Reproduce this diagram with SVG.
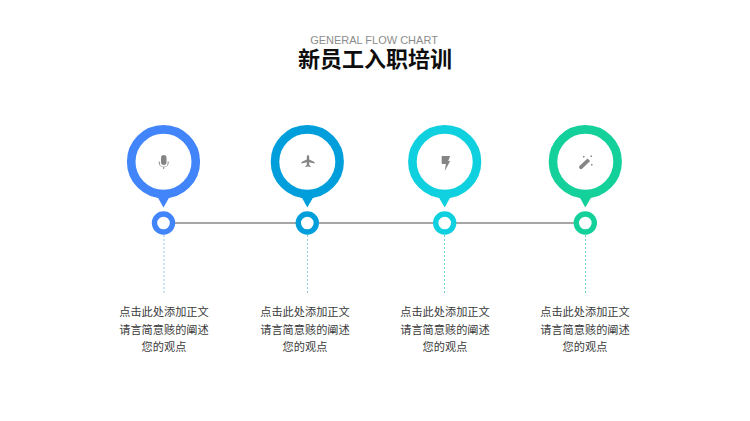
<svg xmlns="http://www.w3.org/2000/svg" width="750" height="421" viewBox="0 0 750 421">
<style>
.cn{font-family:"Noto Sans CJK SC","Liberation Sans",sans-serif}
.body{font-size:11.2px;fill:#3a3a3a;text-anchor:middle}
.ring{fill:none;stroke-width:8.6}
.dot{fill:#fff;stroke-width:5.4}
.drop{fill:none;stroke-width:1;stroke-dasharray:2 2}
.ico{fill:#858585}
</style>
<rect width="750" height="421" fill="#fff"/>
<g id="title">
<text x="374" y="43.500" text-anchor="middle" font-family="Liberation Sans,sans-serif" font-size="11px" fill="#8c8c8c">GENERAL FLOW CHART</text>
<text x="375" y="67" text-anchor="middle" class="cn" font-size="22px" font-weight="700" fill="#0d0d0d">新员工入职培训</text>
</g>
<g id="connectors">
<line x1="175" y1="223" x2="575" y2="223" stroke="#a6a6a6" stroke-width="2"/>
<line class="drop" x1="164" y1="235" x2="164" y2="293" stroke="#8fc6e8"/>
<line class="drop" x1="307.500" y1="235" x2="307.500" y2="293" stroke="#8fc6e8"/>
<line class="drop" x1="444.500" y1="235" x2="444.500" y2="293" stroke="#6fd0d6"/>
<line class="drop" x1="585.500" y1="235" x2="585.500" y2="293" stroke="#6fd0c0"/>
</g>
<g id="node-1">
<path d="M157 196 L163.500 207.500 L170 196Z" fill="#4285fb"/>
<circle class="ring" cx="163.500" cy="161.700" r="32.300" stroke="#4285fb"/>
<circle class="dot" cx="163.500" cy="223" r="9" stroke="#4285fb"/>
<g class="ico"><rect x="161" y="155" width="5.500" height="10" rx="2.700"/><path d="M158.700 161.500h1v1.300a4 4 0 0 0 8 0v-1.300h1v1.300a5 5 0 0 1-4.500 4.400v1.800h-1v-1.800a5 5 0 0 1-4.500-4.400z"/></g>
<text class="cn body" x="164" y="316">点击此处添加正文</text>
<text class="cn body" x="164" y="334">请言简意赅的阐述</text>
<text class="cn body" x="164" y="351">您的观点</text>
</g>
<g id="node-2">
<path d="M301 196 L307.300 207.500 L314 196Z" fill="#009fdb"/>
<circle class="ring" cx="307.300" cy="161.700" r="32.300" stroke="#009fdb"/>
<circle class="dot" cx="307.300" cy="223" r="9" stroke="#009fdb"/>
<path class="ico" d="M308 155c.8 0 1.200 1 1.200 2.200v2.400l5.300 2.300v1.500l-5.300-1.200v2.800l1.500 1.200v.9l-2.700-.5-2.700.5v-.9l1.500-1.200v-2.800l-5.300 1.200v-1.500l5.300-2.300v-2.400c0-1.200.4-2.200 1.200-2.200z"/>
<text class="cn body" x="305" y="316">点击此处添加正文</text>
<text class="cn body" x="305" y="334">请言简意赅的阐述</text>
<text class="cn body" x="305" y="351">您的观点</text>
</g>
<g id="node-3">
<path d="M438 196 L444.700 207.500 L451 196Z" fill="#0fd0de"/>
<circle class="ring" cx="444.700" cy="161.700" r="32.300" stroke="#0fd0de"/>
<circle class="dot" cx="444.700" cy="223" r="9" stroke="#0fd0de"/>
<path class="ico" d="M441.700 156h8.500l-2 5h2l-5.500 10 1.200-7h-4.200z"/>
<text class="cn body" x="445" y="316">点击此处添加正文</text>
<text class="cn body" x="445" y="334">请言简意赅的阐述</text>
<text class="cn body" x="445" y="351">您的观点</text>
</g>
<g id="node-4">
<path d="M579 196 L585.300 207.500 L592 196Z" fill="#14d09a"/>
<circle class="ring" cx="585.300" cy="161.700" r="32.300" stroke="#14d09a"/>
<circle class="dot" cx="585.300" cy="223" r="9" stroke="#14d09a"/>
<g class="ico"><path d="M587.500 158.500l2.600 2.600-8 7.700q-1.500.8-2.500-.2t-.2-2.500z"/><rect x="583" y="156" width="1.500" height="1.500"/><rect x="590.500" y="155.500" width="1.500" height="1.500"/><rect x="591" y="164" width="1.500" height="1.500"/></g>
<text class="cn body" x="585" y="316">点击此处添加正文</text>
<text class="cn body" x="585" y="334">请言简意赅的阐述</text>
<text class="cn body" x="585" y="351">您的观点</text>
</g>
</svg>
